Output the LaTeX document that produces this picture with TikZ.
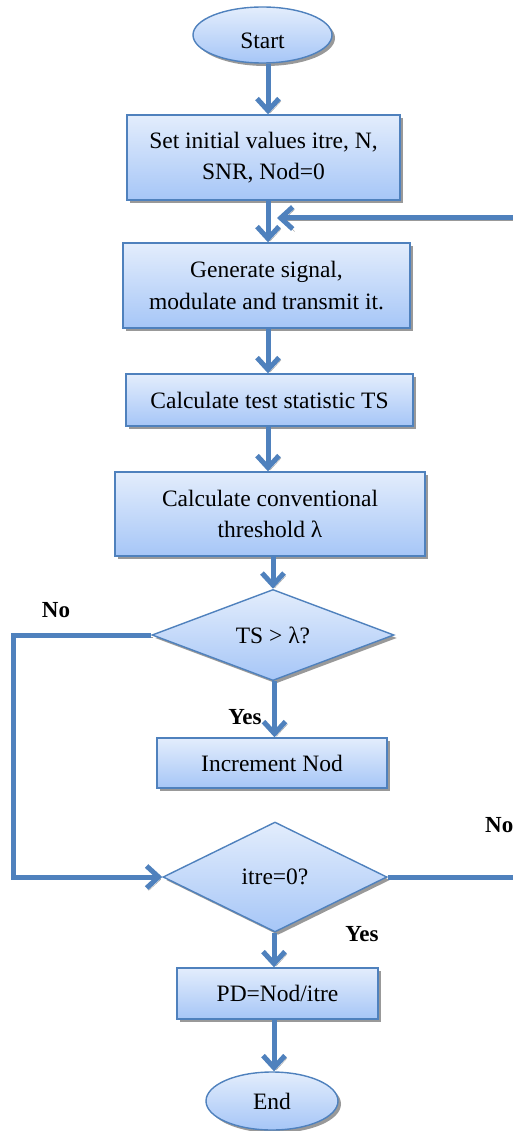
\documentclass[tikz,border=0pt]{standalone}
\usepackage{fontspec}
\setmainfont{Liberation Serif}
\usetikzlibrary{arrows.meta,shapes.geometric,shadows,calc}
\definecolor{ln}{HTML}{4F81BD}
\definecolor{ftop}{HTML}{E3EDFC}
\definecolor{fbot}{HTML}{A6C6F7}
\begin{document}
\begin{tikzpicture}[x=1pt,y=-1pt,
  shp/.style={draw=ln, line width=1.4pt, top color=ftop, bottom color=fbot,
    drop shadow={shadow xshift=3pt, shadow yshift=-3pt, fill=black!40, opacity=1},
    font=\fontsize{23.5}{31.5}\selectfont, align=center, inner sep=0pt},
  box/.style={shp, rectangle},
  oval/.style={shp, ellipse},
  dia/.style={shp, diamond},
  arr/.style={draw=ln, line width=5pt, -{Straight Barb[length=12pt,width=22pt]},
    preaction={draw=black!40, transform canvas={shift={(2pt,-2.5pt)}}}},
  lbl/.style={font=\bfseries\fontsize{23}{28}\selectfont, inner sep=0pt}]
\useasboundingbox (0,0) rectangle (513,1131);

\node[oval, minimum width=139pt, minimum height=56pt, text height=27pt, text depth=0pt] (start) at (262.5,35) {Start};
\node[box, minimum width=273pt, minimum height=85pt] (b1) at (263.5,157.5) {Set initial values itre, N,\\SNR, Nod=0};
\node[box, minimum width=287pt, minimum height=85pt] (b2) at (266.5,285.5) {Generate signal,\\modulate and transmit it.};
\node[box, minimum width=287pt, minimum height=52pt] (b3) at (269.5,400) {Calculate test statistic TS};
\node[box, minimum width=310pt, minimum height=84pt] (b4) at (270,514) {Calculate conventional\\threshold λ};
\node[dia, minimum width=242pt, minimum height=90pt] (d1) at (273,635) {TS > λ?};
\node[box, minimum width=230pt, minimum height=50pt] (b5) at (272,763) {Increment Nod};
\node[dia, minimum width=224pt, minimum height=110pt] (d2) at (275,877) {itre=0?};
\node[box, minimum width=201pt, minimum height=51pt] (b6) at (277.5,993.5) {PD=Nod/itre};
\node[oval, minimum width=132pt, minimum height=58pt] (end) at (272,1101) {End};

\draw[arr] ([xshift=5.5pt]start.south) -- ([xshift=5.5pt]start.south |- b1.north);
\draw[arr] ([xshift=4.5pt]b1.south) -- ([xshift=4.5pt]b1.south |- b2.north);
\draw[arr] ([xshift=1.5pt]b2.south) -- ([xshift=1.5pt]b2.south |- b3.north);
\draw[arr] ([xshift=-1.5pt]b3.south) -- ([xshift=-1.5pt]b3.south |- b4.north);
\draw[arr] ([xshift=3pt]b4.south) -- ([xshift=3pt]b4.south |- d1.north);
\draw[arr] ([xshift=1.5pt]d1.south) -- ([xshift=1.5pt]d1.south |- b5.north);
\draw[arr] ([xshift=-1pt]d2.south) -- ([xshift=-1pt]d2.south |- b6.north);
\draw[arr] ([xshift=-3.5pt]b6.south) -- ([xshift=-3.5pt]b6.south |- end.north);

\coordinate (fbR) at (540,218);
\coordinate (fbT) at (277,218);
\draw[arr] (d2.east) -- (d2.east -| fbR) -- (fbR) -- (fbT);

\coordinate (Lx) at (13,0);
\draw[arr] (d1.west) -- (d1.west -| Lx) -- (d2.west -| Lx) -- (d2.west);

\node[lbl] (no1) at (56,610) {No};
\node[lbl] (yes1) at (245,717) {Yes};
\node[lbl, anchor=west] (no2) at (485,825) {No};
\node[lbl] (yes2) at (362,934) {Yes};
\end{tikzpicture}
\end{document}
